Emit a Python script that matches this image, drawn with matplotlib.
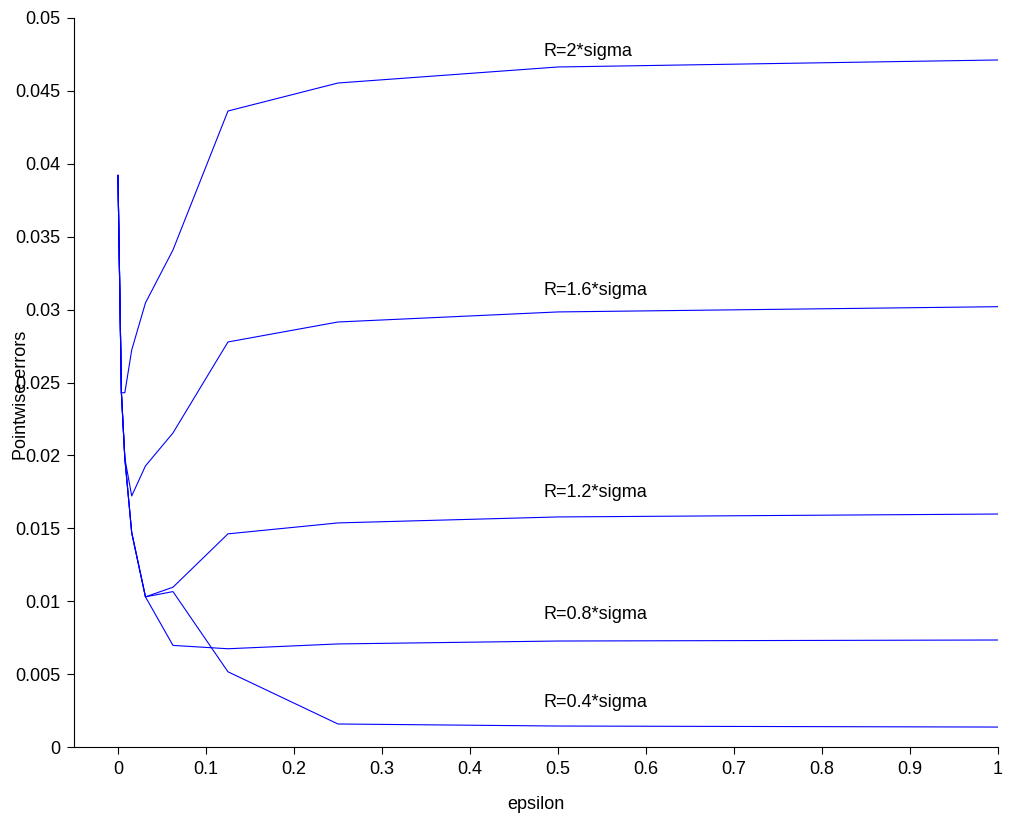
import matplotlib.pyplot as plt
from matplotlib.ticker import FuncFormatter

plt.rcParams["font.family"] = ["Liberation Sans", "DejaVu Sans"]
plt.rcParams["font.size"] = 13

# epsilon grid: 0 then powers of two up to 1
epsilon = [0, 1 / 256, 1 / 128, 1 / 64, 1 / 32, 1 / 16, 1 / 8, 1 / 4, 1 / 2, 1]

err_r04 = [0.0392, 0.0243, 0.0198, 0.0147, 0.0103, 0.01066, 0.00516, 0.00158, 0.00144, 0.00137]
err_r08 = [0.0392, 0.0243, 0.0198, 0.0147, 0.0103, 0.00697, 0.00674, 0.00707, 0.00727, 0.00734]
err_r12 = [0.0392, 0.0243, 0.0198, 0.0147, 0.0103, 0.01096, 0.01462, 0.01537, 0.01578, 0.01598]
err_r16 = [0.0392, 0.0243, 0.0198, 0.01722, 0.01928, 0.02154, 0.02778, 0.02915, 0.02984, 0.0302]
err_r20 = [0.0392, 0.0243, 0.0243, 0.02723, 0.03046, 0.03409, 0.04362, 0.04554, 0.04664, 0.04712]

curve_names = ["R=0.4*sigma", "R=0.8*sigma", "R=1.2*sigma", "R=1.6*sigma", "R=2*sigma"]
label_x = 0.483
label_y = [0.00302, 0.00912, 0.01749, 0.03134, 0.04767]

fig = plt.figure(figsize=(10.09, 8.21), dpi=100)
ax = fig.add_axes([0.0733, 0.0901, 0.9158, 0.888])

for errs, name, ly in zip([err_r04, err_r08, err_r12, err_r16, err_r20], curve_names, label_y):
    ax.plot(epsilon, errs, color="#0000ff", linewidth=0.8)
    ax.text(label_x, ly, name, ha="left", va="center", fontsize=13)

ax.set_xlim(-0.05, 1)
ax.set_ylim(0, 0.05)
ax.set_xticks([i / 10 for i in range(11)])
ax.set_yticks([i * 0.005 for i in range(11)])
fmt = FuncFormatter(lambda v, pos: "%g" % round(v, 4))
ax.xaxis.set_major_formatter(fmt)
ax.yaxis.set_major_formatter(fmt)
ax.tick_params(direction="out", length=5, width=0.8, pad=5)

ax.spines["top"].set_visible(False)
ax.spines["right"].set_visible(False)
ax.spines["left"].set_linewidth(0.8)
ax.spines["bottom"].set_linewidth(0.8)

ax.set_xlabel("epsilon", labelpad=13)
# y label sits over the tick labels, as in the original figure
ax.text(0.021, 0.519, "Pointwise errors", rotation=90, transform=fig.transFigure,
        ha="center", va="center", fontsize=13)

fig.savefig("out.png", dpi=100)
